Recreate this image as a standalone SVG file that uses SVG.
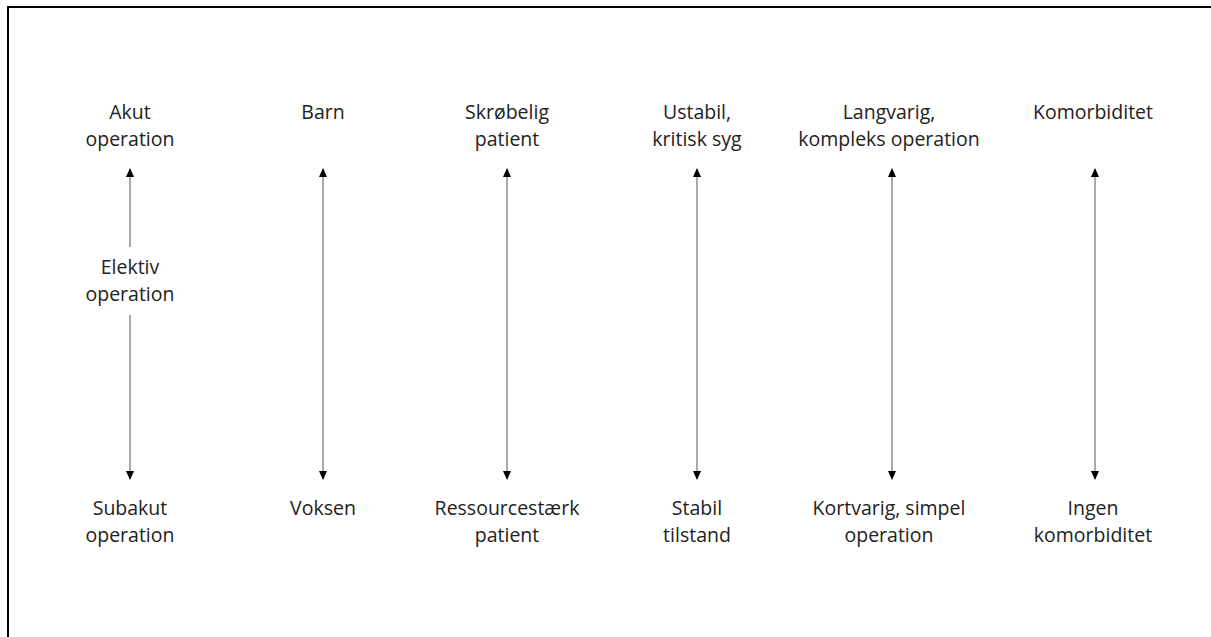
<svg xmlns="http://www.w3.org/2000/svg" width="1211" height="637" viewBox="0 0 1211 637">
<defs>
<style>
text{font-family:"Open Sans","Noto Sans",sans-serif;font-size:19.5px;fill:#222;text-anchor:middle}
.ax{stroke:#8c8c8c;stroke-width:1.5;fill:none}
</style>
<marker id="ah" viewBox="0 0 10 10" refX="9" refY="5" markerWidth="9" markerHeight="9" markerUnits="userSpaceOnUse" orient="auto-start-reverse">
<path d="M0,0.5 L10,5 L0,9.5 z" fill="#000"/>
</marker>
</defs>
<rect x="0" y="0" width="1211" height="637" fill="#fff"/>
<rect x="8" y="7" width="1220" height="650" fill="none" stroke="#000" stroke-width="2"/>
<g id="connectors">
<line class="ax" x1="130" y1="169" x2="130" y2="247" marker-start="url(#ah)"/>
<line class="ax" x1="130" y1="315" x2="130" y2="479" marker-end="url(#ah)"/>
<line class="ax" x1="323" y1="169" x2="323" y2="479" marker-start="url(#ah)" marker-end="url(#ah)"/>
<line class="ax" x1="507" y1="169" x2="507" y2="479" marker-start="url(#ah)" marker-end="url(#ah)"/>
<line class="ax" x1="697" y1="169" x2="697" y2="479" marker-start="url(#ah)" marker-end="url(#ah)"/>
<line class="ax" x1="892" y1="169" x2="892" y2="479" marker-start="url(#ah)" marker-end="url(#ah)"/>
<line class="ax" x1="1095" y1="169" x2="1095" y2="479" marker-start="url(#ah)" marker-end="url(#ah)"/>
</g>
<g id="n-akut"><text x="130" y="119">Akut</text><text x="130" y="146">operation</text></g>
<g id="n-elektiv"><text x="130" y="274">Elektiv</text><text x="130" y="301">operation</text></g>
<g id="n-subakut"><text x="130" y="515">Subakut</text><text x="130" y="542">operation</text></g>
<g id="n-barn"><text x="323" y="119">Barn</text></g>
<g id="n-voksen"><text x="323" y="515">Voksen</text></g>
<g id="n-skrobelig"><text x="507" y="119">Skrøbelig</text><text x="507" y="146">patient</text></g>
<g id="n-ressource"><text x="507" y="515">Ressourcestærk</text><text x="507" y="542">patient</text></g>
<g id="n-ustabil"><text x="697" y="119">Ustabil,</text><text x="697" y="146">kritisk syg</text></g>
<g id="n-stabil"><text x="697" y="515">Stabil</text><text x="697" y="542">tilstand</text></g>
<g id="n-langvarig"><text x="889" y="119">Langvarig,</text><text x="889" y="146">kompleks operation</text></g>
<g id="n-kortvarig"><text x="889" y="515">Kortvarig, simpel</text><text x="889" y="542">operation</text></g>
<g id="n-komorb"><text x="1093" y="119">Komorbiditet</text></g>
<g id="n-ingen"><text x="1093" y="515">Ingen</text><text x="1093" y="542">komorbiditet</text></g>
</svg>
